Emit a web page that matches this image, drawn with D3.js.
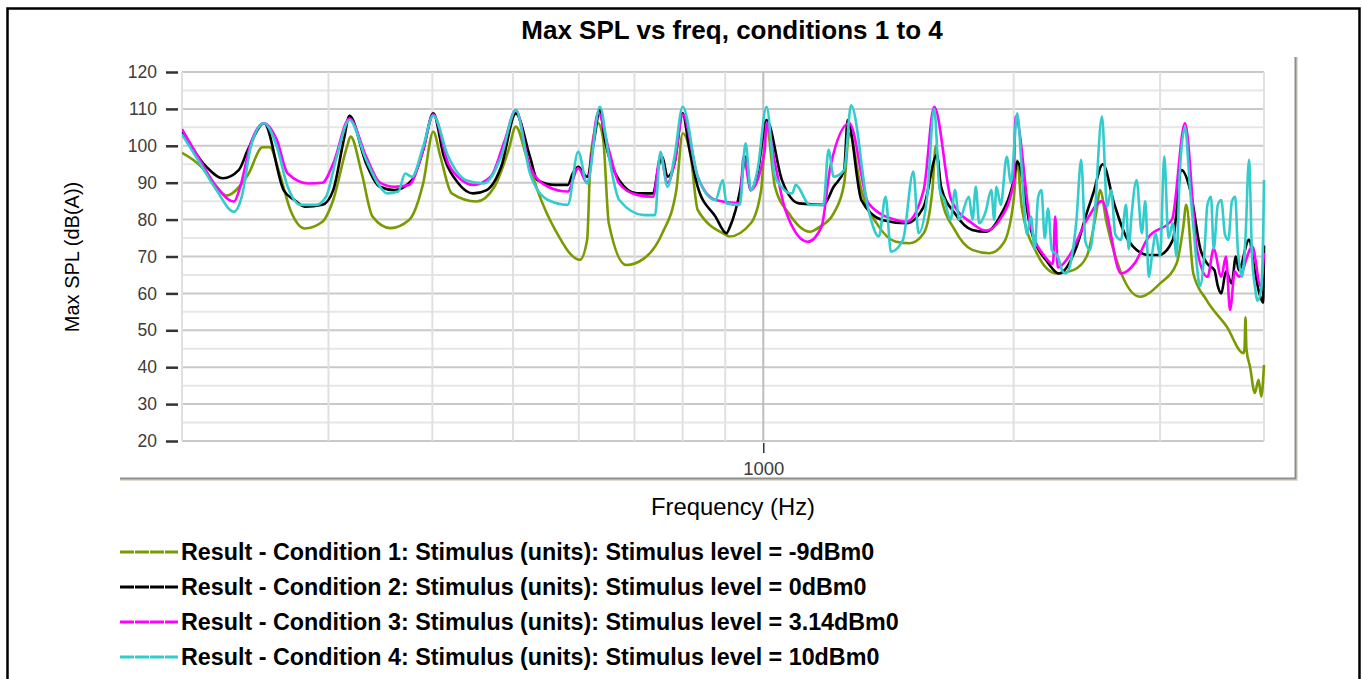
<!DOCTYPE html>
<html>
<head>
<meta charset="utf-8">
<script src="https://cdn.jsdelivr.net/npm/d3@7"></script>
<style>
  body { margin: 0; background: #fff; }
  text { font-family: Arial, "Liberation Sans", sans-serif; }
</style>
</head>
<body>
<svg id="chart" width="1363" height="679"></svg>
<script>
// Datos: frecuencia (Hz) y SPL máximo (dB(A)) por condición.
const c1Freq = [200,211,220,226,240,250,255,262,270,281,295,304,316,319,329,339,356,375,390,401,409,422,452,475,494,504,519,535,562,602,614,620,633,642,652,684,719,756,786,800,818,834,903,910,966,994,1009,1033,1073,1137,1170,1215,1251,1269,1312,1377,1444,1500,1559,1597,1612,1636,1699,1783,1871,1944,2000,2020,2045,2132,2253,2359,2448,2517,2540,2588,2685,2837,3000,3141,3199,3225,3289,3412,3608,3778,3790,3800,3810,3849,3900,3940,3970,4000];
const c1Spl  = [98.1,94.3,89,86.5,92.1,99.6,99.6,92.5,82.6,77.6,79.4,85.3,100,102.5,92.5,80.8,77.7,79.9,89.9,103.8,97.1,87.1,84.9,88.9,98.9,105.2,97.1,88,77.2,69.1,74.5,97.1,106.1,101.6,79,67.7,69.5,76.3,88,103.4,97.1,82.6,75.8,75.4,79,88,105.2,88.9,81.7,76.7,78.1,81.7,89.8,103.4,88,78.1,74,73.6,76.3,88,100,86.2,77.2,71.8,70.9,73.6,85.3,96,83.5,70.9,65.4,66.3,70,82.6,88,79,66.3,59.1,62.7,68.2,78,84,65.4,58.2,51,43.8,45,53.5,45,40,33,36.6,32,40.6];

const c2Freq = [200,214,224,234,240,251,265,273,281,295,304,313,318,333,346,360,378,390,401,413,430,448,465,484,504,524,535,562,582,590,599,614,626,636,645,671,705,737,748,756,767,782,800,814,834,876,903,912,938,952,966,984,1009,1053,1104,1181,1215,1251,1263,1312,1390,1486,1559,1617,1636,1699,1783,1852,1925,2000,2020,2098,2201,2266,2381,2448,2493,2560,2641,2744,2907,2991,3108,3184,3261,3356,3420,3487,3520,3554,3600,3658,3700,3730,3837,3900,3949,3990,4000];
const c2Spl  = [104,94.3,91.2,93.4,98.9,106.1,88,85.3,83.5,84,88,101.6,108.1,95.2,88.9,88,90.7,98.9,108.8,97.1,89.8,87.1,88,94.3,108.8,97.1,90.7,89.4,89.4,92.5,94.3,91.6,101.6,109.7,101.6,90.7,87.1,87.1,94.3,97.1,91.6,95.2,108.8,99.8,88.9,80.8,76.3,78.1,88,97,88,92.5,107,90.7,84.4,84,88.9,93.4,107,85.3,79.9,79,83.5,97.5,88.9,81.7,77.2,76.7,80.8,90.7,95.7,77.2,68.2,65.4,72.7,81.7,87.1,95,84.4,74.5,70.4,70.4,74.5,93.4,88,71.8,68,66.3,62,60,66,62.7,70,66.3,74.5,66,60,57.5,73];

const c3Freq = [200,209,220,231,235,242,251,260,268,284,295,304,318,333,346,360,375,390,401,418,434,448,470,489,504,524,551,582,599,614,633,652,671,705,737,752,767,782,800,834,876,937,947,966,1004,1009,1033,1063,1131,1175,1204,1269,1338,1444,1486,1559,1605,1683,1783,1852,1925,2000,2010,2098,2180,2230,2244,2260,2330,2450,2554,2692,2797,2900,3100,3214,3323,3421,3480,3554,3600,3641,3690,3730,3874,3960,4000];
const c3Spl  = [104.5,97.1,88.9,84.9,88.9,100.7,106.1,101.6,92.5,89.8,90,95.2,107.4,97.1,90,88.9,89.4,98.9,108.5,95.2,90.7,89.4,91.6,101.6,109.7,94.3,88.9,87.6,93.9,90,109,98.9,89.8,86.7,86.2,97.1,90,95.2,108.5,91.6,85.3,84.4,97.1,88,98.9,106.1,95.2,82.6,74,78.1,94.3,106.1,84.4,79.9,79.4,88,110.6,85.3,79,77,80,90,107.9,78,70,68,80.8,67,70,80,85,65.4,68.2,75,80,106.1,71.8,64.5,72,64.5,70,55.5,66,64.5,72.7,62,71];

const c4Freq = [200,209,220,231,236,242,251,260,268,278,290,298,307,318,333,346,353,364,371,378,390,401,418,439,461,484,504,524,551,582,599,614,636,652,671,719,741,752,767,782,800,834,876,894,903,937,952,966,984,1009,1033,1083,1094,1137,1181,1198,1215,1251,1275,1338,1377,1403,1424,1472,1515,1537,1574,1605,1630,1651,1680,1700,1720,1767,1785,1801,1818,1850,1880,1895,1907,1930,1962,1985,2020,2050,2075,2098,2120,2140,2160,2180,2200,2223,2260,2290,2310,2340,2380,2411,2440,2470,2500,2554,2591,2620,2650,2692,2730,2750,2771,2811,2852,2880,2907,2940,2963,3000,3035,3070,3108,3140,3168,3214,3260,3292,3320,3350,3389,3420,3454,3480,3520,3554,3590,3624,3660,3694,3720,3765,3800,3837,3870,3900,3930,3968,3990,4000];
const c4Spl  = [103.1,96.2,88,82.1,86.2,99.8,106.1,99.8,88.9,84,84,86.2,97.1,107,96.2,88.9,87.1,87.6,92.5,91.6,99.8,108.2,97.1,90.7,89.8,97.1,109.7,92.6,85.3,84,98.4,89.8,110.6,97.1,85.3,81.2,81.2,98.4,88.9,97.1,110.6,91.6,85.3,90.7,84.4,84,100.7,88,93.4,110.6,91.6,87.1,89.4,84,84,98.9,91.6,93.4,111,82.6,75.4,86.2,71.3,74.5,93,76.3,86.2,110,88,85.3,80,88,80,86.2,80,88.9,79,82,88,80,88.9,84,97,90,108.8,90,76,80.8,72,86,88,75,83,71.8,70,66,65.4,68,80,96.2,74,71.8,80,107.9,83.5,88,76,74.5,84,72,80.8,90.7,76.3,85,64.5,72,76.3,70,97.1,75,79,70,92.5,105,88,77.2,68,62,70,84,86.2,72,84,85.3,76,74.5,85,86.2,72,64.5,75,96.2,70,62,58,60.9,75,90.7];

const seriesNames = [
  "Result - Condition 1: Stimulus (units): Stimulus level = -9dBm0",
  "Result - Condition 2: Stimulus (units): Stimulus level = 0dBm0",
  "Result - Condition 3: Stimulus (units): Stimulus level = 3.14dBm0",
  "Result - Condition 4: Stimulus (units): Stimulus level = 10dBm0"
];
const seriesColors = ["#7a9a01", "#000000", "#ff00ff", "#33cccc"];
const yTicks = [20, 30, 40, 50, 60, 70, 80, 90, 100, 110, 120];
const xTickLabels = [1000];

const series = [
  d3.zip(c1Freq, c1Spl),
  d3.zip(c2Freq, c2Spl),
  d3.zip(c3Freq, c3Spl),
  d3.zip(c4Freq, c4Spl)
];

// Dimensiones
const marginLeft = 182, marginRight = 1264, marginTop = 72, plotBottom = 441;

const x = d3.scaleLog().domain([200, 4000]).range([marginLeft, marginRight]);
const y = d3.scaleLinear().domain([20, 120]).range([plotBottom, marginTop]);

const svg = d3.select("#chart");

// Marco exterior
svg.append("rect")
  .attr("x", 7.5).attr("y", 8.5)
  .attr("width", 1352).attr("height", 700)
  .attr("fill", "none").attr("stroke", "#000").attr("stroke-width", 2.5);

// Panel con sombra (solo borde derecho e inferior)
svg.append("path")
  .attr("d", "M1297,57V480H120")
  .attr("fill", "none").attr("stroke", "#e3dfd0").attr("stroke-width", 2);
svg.append("path")
  .attr("d", "M1295.5,57V478.5H120")
  .attr("fill", "none").attr("stroke", "#8e8e8a").attr("stroke-width", 2);

// Título
svg.append("text")
  .attr("x", 732).attr("y", 39)
  .attr("text-anchor", "middle")
  .attr("font-size", 26).attr("font-weight", "bold")
  .text("Max SPL vs freq, conditions 1 to 4");

// Rejilla horizontal
const grid = svg.append("g");
grid.selectAll("line.h")
  .data(y.ticks(20))
  .join("line")
  .attr("x1", marginLeft).attr("x2", marginRight)
  .attr("y1", d => y(d)).attr("y2", d => y(d))
  .attr("stroke", d => d % 10 === 0 ? "#c9c9c9" : "#e6e6e6")
  .attr("stroke-width", 2);

// Rejilla vertical
grid.selectAll("line.v")
  .data(x.ticks())
  .join("line")
  .attr("x1", d => x(d)).attr("x2", d => x(d))
  .attr("y1", marginTop).attr("y2", plotBottom)
  .attr("stroke", d => d === 1000 ? "#bdbdbd" : "#e0e0e0")
  .attr("stroke-width", 2);

// Ejes
const yAxis = svg.append("g")
  .attr("transform", "translate(178,0)")
  .call(d3.axisLeft(y).tickValues(yTicks).tickSize(12).tickPadding(9));
yAxis.select(".domain").remove();
yAxis.selectAll(".tick line").attr("stroke", "#333").attr("stroke-width", 2.5);
yAxis.selectAll(".tick text").attr("font-size", 17.5).attr("fill", "#3c3c3c")
  .attr("font-family", "Arial, 'Liberation Sans', sans-serif");

const xAxis = svg.append("g")
  .attr("transform", `translate(0,${plotBottom + 2})`)
  .call(d3.axisBottom(x).tickValues(xTickLabels).tickFormat(d3.format("d")).tickSize(10).tickPadding(9));
xAxis.select(".domain").remove();
xAxis.selectAll(".tick line").attr("stroke", "#000").attr("stroke-width", 1.2);
xAxis.selectAll(".tick text").attr("font-size", 18.5).attr("fill", "#3c3c3c")
  .attr("font-family", "Arial, 'Liberation Sans', sans-serif");

// Títulos de ejes
svg.append("text")
  .attr("transform", "translate(79,257) rotate(-90)")
  .attr("text-anchor", "middle")
  .attr("font-size", 20)
  .text("Max SPL (dB(A))");

svg.append("text")
  .attr("x", 733).attr("y", 515)
  .attr("text-anchor", "middle")
  .attr("font-size", 23.8)
  .text("Frequency (Hz)");

// Curvas
svg.append("clipPath").attr("id", "clip")
  .append("rect")
  .attr("x", marginLeft).attr("y", marginTop - 5)
  .attr("width", marginRight - marginLeft + 2).attr("height", plotBottom - marginTop + 5);

const line = d3.line()
  .curve(d3.curveMonotoneX)
  .x(d => x(d[0])).y(d => y(d[1]));

svg.append("g")
  .attr("clip-path", "url(#clip)")
  .attr("fill", "none")
  .attr("stroke-width", 2.6)
  .attr("stroke-linejoin", "round")
  .selectAll("path")
  .data(series)
  .join("path")
  .attr("stroke", (d, i) => seriesColors[i])
  .attr("d", line);

// Leyenda
const legend = svg.append("g")
  .selectAll("g")
  .data(seriesNames)
  .join("g")
  .attr("transform", (d, i) => `translate(0,${552 + i * 35})`);

legend.append("line")
  .attr("x1", 120).attr("x2", 178)
  .attr("stroke", (d, i) => seriesColors[i])
  .attr("stroke-width", 3)
  .attr("stroke-dasharray", "14,1");

legend.append("text")
  .attr("x", 181).attr("dy", "0.36em")
  .attr("font-size", 23.3).attr("font-weight", "bold")
  .text(d => d);
</script>
</body>
</html>
